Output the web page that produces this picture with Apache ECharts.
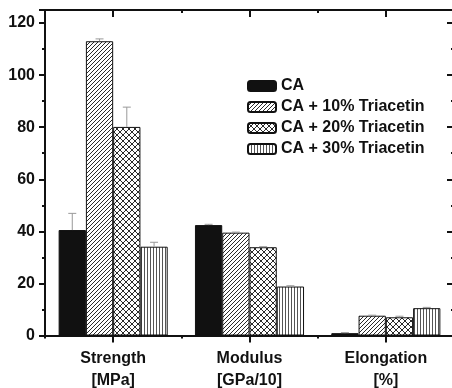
<!DOCTYPE html>
<html>
<head>
<meta charset="utf-8">
<script src="https://cdn.jsdelivr.net/npm/echarts@6/dist/echarts.min.js"></script>
<style>
html,body{margin:0;padding:0;background:#fff;}
#chart{width:452px;height:388px;}
</style>
</head>
<body>
<div id="chart"></div>
<script>
var categories = ['Strength\n[MPa]', 'Modulus\n[GPa/10]', 'Elongation\n[%]'];
var seriesNames = ['CA', 'CA + 10% Triacetin', 'CA + 20% Triacetin', 'CA + 30% Triacetin'];
var valuesCA    = [40.5, 42.4, 0.9];
var values10    = [113.0, 39.5, 7.6];
var values20    = [80.1, 33.9, 7.0];
var values30    = [34.1, 18.8, 10.5];
var errorsCA    = [6.4, 0.3, 0.2];
var errors10    = [0.9, 0.2, 0.2];
var errors20    = [7.6, 0.2, 0.4];
var errors30    = [1.7, 0.3, 0.3];
var yTicks = [0, 20, 40, 60, 80, 100, 120];

var FONT = '"Liberation Sans", Arial, Helvetica, sans-serif';

function makePattern(w, h, draw) {
  var c = document.createElement('canvas');
  c.width = w; c.height = h;
  var ctx = c.getContext('2d');
  ctx.fillStyle = '#ffffff';
  ctx.fillRect(0, 0, w, h);
  draw(ctx);
  return { image: c, repeat: 'repeat' };
}
var patDiag = makePattern(4, 4, function (ctx) {
  ctx.fillStyle = '#2a2a2a';
  for (var i = 0; i < 4; i++) ctx.fillRect(i, 3 - i, 1, 1);
});
var patCross = makePattern(6, 6, function (ctx) {
  ctx.fillStyle = '#2a2a2a';
  for (var i = 0; i < 6; i++) { ctx.fillRect(i, i, 1, 1); ctx.fillRect(i, 5 - i, 1, 1); }
});
var patVert = makePattern(3, 3, function (ctx) {
  ctx.fillStyle = '#555555';
  ctx.fillRect(0, 0, 1, 3);
});

var allValues = [valuesCA, values10, values20, values30];
var allErrors = [errorsCA, errors10, errors20, errors30];
var fills = ['#111111', patDiag, patCross, patVert];

var chart = echarts.init(document.getElementById('chart'), null, { renderer: 'canvas' });

var series = [];
allValues.forEach(function (vals, si) {
  series.push({
    name: seriesNames[si],
    type: 'bar',
    xAxisIndex: 0,
    yAxisIndex: 0,
    data: vals,
    barGap: '0%',
    barCategoryGap: '20%',
    itemStyle: { color: fills[si], borderColor: '#111', borderWidth: 1 },
    emphasis: { disabled: true },
    z: 2
  });
});
allValues.forEach(function (vals, si) {
  var errs = allErrors[si];
  series.push({
    type: 'custom',
    xAxisIndex: 0,
    yAxisIndex: 0,
    z: 3,
    silent: true,
    data: vals.map(function (v, i) { return [i, v, v + errs[i]]; }),
    renderItem: function (params, api) {
      var ci = api.value(0);
      var base = api.coord([ci, api.value(1)]);
      var top = api.coord([ci, api.value(2)]);
      var catW = api.size([1, 0])[0];
      var bw = catW * 0.8 / 4;
      var x = base[0] + (si - 1.5) * bw;
      var cap = 4;
      var st = { stroke: '#999', lineWidth: 1, fill: null };
      return {
        type: 'group',
        children: [
          { type: 'line', shape: { x1: x, y1: base[1], x2: x, y2: top[1] }, style: st },
          { type: 'line', shape: { x1: x - cap, y1: top[1], x2: x + cap, y2: top[1] }, style: st }
        ]
      };
    }
  });
});

var option = {
  animation: false,
  backgroundColor: '#ffffff',
  grid: { left: 45, top: 10, width: 409, height: 325.5, containLabel: false, outerBoundsMode: 'none' },
  legend: {
    data: seriesNames,
    orient: 'vertical',
    left: 247,
    top: 78,
    padding: 0,
    itemWidth: 28,
    itemHeight: 10,
    itemGap: 5,
    selectedMode: false,
    textStyle: { fontFamily: FONT, fontWeight: 'bold', fontSize: 16, color: '#111' }
  },
  xAxis: [
    {
      type: 'category', data: categories, position: 'bottom',
      axisLine: { show: true, lineStyle: { color: '#111', width: 2 } },
      axisTick: { show: true, alignWithLabel: false, inside: false, length: 3, lineStyle: { color: '#111', width: 2 } },
      axisLabel: { show: true, margin: 12, fontFamily: FONT, fontWeight: 'bold', fontSize: 16, color: '#111', lineHeight: 22 },
      splitLine: { show: false }
    },
    {
      type: 'category', data: categories, position: 'bottom',
      axisLine: { show: false },
      axisTick: { show: true, alignWithLabel: true, inside: false, length: 7, lineStyle: { color: '#111', width: 2 } },
      axisLabel: { show: false },
      splitLine: { show: false }
    },
    {
      type: 'category', data: categories, position: 'top',
      axisLine: { show: true, lineStyle: { color: '#111', width: 2 } },
      axisTick: { show: true, alignWithLabel: false, inside: true, length: 3, lineStyle: { color: '#111', width: 2 } },
      axisLabel: { show: false },
      splitLine: { show: false }
    },
    {
      type: 'category', data: categories, position: 'top',
      axisLine: { show: false },
      axisTick: { show: true, alignWithLabel: true, inside: true, length: 7, lineStyle: { color: '#111', width: 2 } },
      axisLabel: { show: false },
      splitLine: { show: false }
    }
  ],
  yAxis: [
    {
      type: 'value', min: 0, max: 125, interval: 20, position: 'left',
      axisLine: { show: true, lineStyle: { color: '#111', width: 2 } },
      axisTick: { show: true, inside: false, length: 6, lineStyle: { color: '#111', width: 2 } },
      minorTick: { show: true, splitNumber: 2, length: 3, lineStyle: { color: '#111', width: 2 } },
      axisLabel: {
        show: true, margin: 10, fontFamily: FONT, fontWeight: 'bold', fontSize: 16, color: '#111',
        formatter: function (v) { return yTicks.indexOf(v) >= 0 ? String(v) : ''; }
      },
      splitLine: { show: false }
    },
    {
      type: 'value', min: 0, max: 125, interval: 20, position: 'right',
      axisLine: { show: true, lineStyle: { color: '#111', width: 2 } },
      axisTick: { show: true, inside: true, length: 7, lineStyle: { color: '#111', width: 2 } },
      minorTick: { show: true, splitNumber: 2, length: 3, lineStyle: { color: '#111', width: 2 } },
      axisLabel: { show: false },
      splitLine: { show: false }
    }
  ],
  series: series
};
chart.setOption(option);
</script>
</body>
</html>
